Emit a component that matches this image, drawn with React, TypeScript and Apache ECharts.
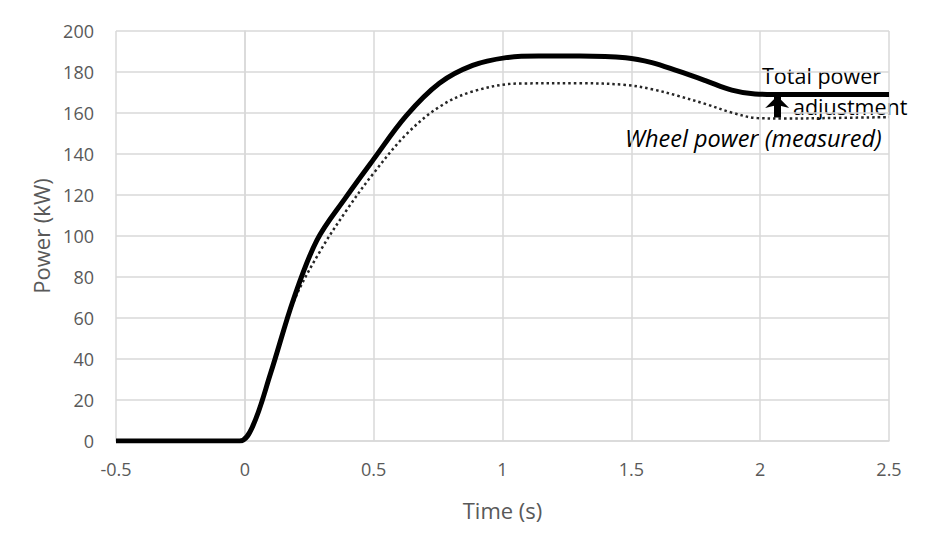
import React, { useEffect, useRef } from "react";
import * as echarts from "echarts";

const totalTime = [-0.5, -0.02, 0.03, 0.1, 0.19, 0.28, 0.39, 0.5, 0.626, 0.755, 0.884, 1.014, 1.14, 1.3, 1.478, 1.58, 1.68, 1.79, 1.89, 1.98, 2.1, 2.5];
const totalPower = [0, 0, 7, 33, 69.5, 98, 118.5, 137.5, 158.6, 174.5, 183.2, 187, 187.8, 187.8, 187, 184.6, 180.5, 175.7, 171.2, 169.3, 169, 169];

const wheelTime = [-0.5, -0.02, 0.03, 0.1, 0.19, 0.294, 0.4, 0.497, 0.626, 0.755, 0.884, 1.066, 1.3, 1.478, 1.58, 1.68, 1.79, 1.89, 1.99, 2.1, 2.3, 2.5];
const wheelPower = [0, 0, 7, 33, 68, 93, 113.5, 130.2, 149.5, 163, 170.5, 174.4, 174.5, 173.7, 171.6, 168.4, 164.3, 160.2, 157.5, 157.3, 157.6, 158];

const arrowTime = 2.066;
const arrowFrom = 157.8;
const arrowTo = 168.3;

const FONT = "Open Sans";

export default function App() {
  const ref = useRef<HTMLDivElement>(null);
  useEffect(() => {
    if (!ref.current) return;
    const chart = echarts.init(ref.current, null, { renderer: "svg" });
    chart.setOption({
      animation: false,
      backgroundColor: "#ffffff",
      grid: { left: 116, right: 47, top: 31, bottom: 108, containLabel: false },
      xAxis: {
        type: "value",
        min: -0.5,
        max: 2.5,
        interval: 0.5,
        name: "Time (s)",
        nameLocation: "middle",
        nameGap: 58,
        nameTextStyle: { color: "#595959", fontSize: 22, fontFamily: FONT },
        axisLine: { show: true, lineStyle: { color: "#d9d9d9", width: 1.5 } },
        axisTick: { show: false },
        axisLabel: { color: "#595959", fontSize: 18, fontFamily: FONT, margin: 19 },
        splitLine: { show: true, lineStyle: { color: "#d9d9d9", width: 1.5 } },
      },
      yAxis: {
        type: "value",
        min: 0,
        max: 200,
        interval: 20,
        name: "Power (kW)",
        nameLocation: "middle",
        nameGap: 63,
        nameTextStyle: { color: "#595959", fontSize: 22, fontFamily: FONT },
        axisLine: { show: true, lineStyle: { color: "#d9d9d9", width: 1.5 } },
        axisTick: { show: false },
        axisLabel: { color: "#595959", fontSize: 18, fontFamily: FONT, margin: 22 },
        splitLine: { show: true, lineStyle: { color: "#d9d9d9", width: 1.5 } },
      },
      series: [
        {
          type: "line",
          name: "Wheel power (measured)",
          data: wheelTime.map((t, i) => [t, wheelPower[i]]),
          showSymbol: false,
          smooth: 0.35,
          lineStyle: { color: "#262626", width: 2.5, type: [2.5, 3] },
          markLine: {
            silent: true,
            symbol: ["none", "arrow"],
            symbolSize: [18, 12],
            label: { show: false },
            lineStyle: { color: "#000", width: 7, type: "solid" },
            data: [[{ coord: [arrowTime, arrowFrom] }, { coord: [arrowTime, arrowTo] }]],
          },
          z: 2,
        },
        {
          type: "line",
          name: "Total power",
          data: totalTime.map((t, i) => [t, totalPower[i]]),
          showSymbol: false,
          smooth: 0.35,
          lineStyle: { color: "#000", width: 5 },
          z: 3,
        },
      ],
      graphic: [
        { type: "text", x: 762, y: 75, style: { text: "Total power", fill: "#000", fontSize: 21.5, fontFamily: FONT, verticalAlign: "middle" } },
        { type: "text", x: 793, y: 106, style: { text: "adjustment", fill: "#000", fontSize: 21.5, fontFamily: FONT, verticalAlign: "middle" } },
        { type: "text", x: 625, y: 138, style: { text: "Wheel power (measured)", fill: "#000", fontSize: 23.5, fontStyle: "italic", fontFamily: FONT, verticalAlign: "middle" } },
      ],
    });
    return () => chart.dispose();
  }, []);
  return <div ref={ref} style={{ width: 936, height: 549, position: "fixed", left: 0, top: 0 }} />;
}
